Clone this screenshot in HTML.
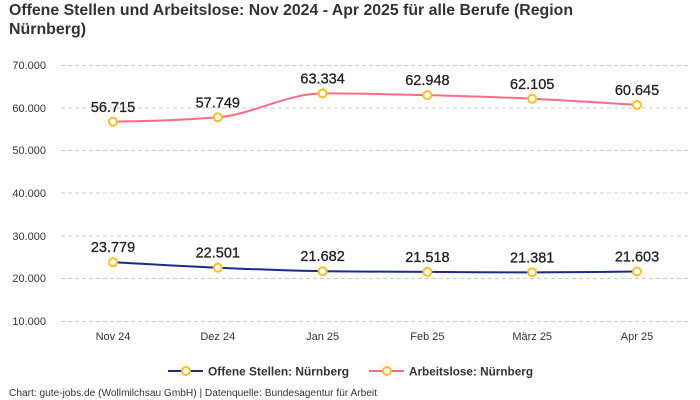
<!DOCTYPE html>
<html>
<head>
<meta charset="utf-8">
<style>
  html, body { margin:0; padding:0; background:#fff; }
  svg { display:block; font-family:"Liberation Sans", sans-serif; }
</style>
</head>
<body>
<svg width="700" height="400" viewBox="0 0 700 400" xmlns="http://www.w3.org/2000/svg">
  <rect width="700" height="400" fill="#fff"/>
  <!-- Title -->
  <text x="9" y="15" font-size="16" font-weight="bold" fill="#333" textLength="564" lengthAdjust="spacingAndGlyphs">Offene Stellen und Arbeitslose: Nov 2024 - Apr 2025 für alle Berufe (Region</text>
  <text x="9" y="34" font-size="16" font-weight="bold" fill="#333" textLength="77" lengthAdjust="spacingAndGlyphs">Nürnberg)</text>

  <!-- Grid -->
  <g stroke="#cccccc" stroke-width="1" stroke-dasharray="4,3">
    <line x1="61" y1="65.5" x2="688" y2="65.5"/>
    <line x1="61" y1="108" x2="688" y2="108"/>
    <line x1="61" y1="150.5" x2="688" y2="150.5"/>
    <line x1="61" y1="193" x2="688" y2="193"/>
    <line x1="61" y1="236" x2="688" y2="236"/>
    <line x1="61" y1="278.5" x2="688" y2="278.5"/>
    <line x1="61" y1="321.5" x2="688" y2="321.5"/>
  </g>
  <!-- Y labels -->
  <g font-size="11" fill="#333" text-anchor="end">
    <text x="46" y="69">70.000</text>
    <text x="46" y="112">60.000</text>
    <text x="46" y="154">50.000</text>
    <text x="46" y="197">40.000</text>
    <text x="46" y="240">30.000</text>
    <text x="46" y="282">20.000</text>
    <text x="46" y="325">10.000</text>
  </g>
  <!-- X labels -->
  <g font-size="11" fill="#333" text-anchor="middle">
    <text x="113" y="340">Nov 24</text>
    <text x="217.8" y="340">Dez 24</text>
    <text x="322.6" y="340">Jan 25</text>
    <text x="427.4" y="340">Feb 25</text>
    <text x="532.2" y="340">März 25</text>
    <text x="637" y="340">Apr 25</text>
  </g>

  <!-- Pink series -->
  <path d="M113,121.7 C147.93,120.97 182.87,120.23 217.8,117.3 C252.73,114.37 287.67,93.4 322.6,93.4 C357.53,93.4 392.47,94.22 427.4,95.1 C462.33,95.98 497.27,97.07 532.2,98.7 C567.13,100.33 602.07,102.62 637,104.9" fill="none" stroke="#ff6b84" stroke-width="2"/>
  <!-- Blue series -->
  <path d="M113,262.2 C147.93,264.2 182.87,266.2 217.8,267.7 C252.73,269.2 287.67,270.73 322.6,271.2 C357.53,271.67 392.47,271.7 427.4,271.9 C462.33,272.1 497.27,272.4 532.2,272.4 C567.13,272.4 602.07,271.95 637,271.5" fill="none" stroke="#1a2b8c" stroke-width="2"/>

  <!-- Markers -->
  <g fill="#fff" stroke="#fbbf1f" stroke-width="2">
    <circle cx="113" cy="121.7" r="4"/>
    <circle cx="217.8" cy="117.3" r="4"/>
    <circle cx="322.6" cy="93.4" r="4"/>
    <circle cx="427.4" cy="95.1" r="4"/>
    <circle cx="532.2" cy="98.7" r="4"/>
    <circle cx="637" cy="104.9" r="4"/>
    <circle cx="113" cy="262.2" r="4"/>
    <circle cx="217.8" cy="267.7" r="4"/>
    <circle cx="322.6" cy="271.2" r="4"/>
    <circle cx="427.4" cy="271.9" r="4"/>
    <circle cx="532.2" cy="272.4" r="4"/>
    <circle cx="637" cy="271.5" r="4"/>
  </g>

  <!-- Data labels -->
  <g font-size="14.5" fill="#222" text-anchor="middle" stroke="#222" stroke-width="0.3">
    <text x="113" y="112">56.715</text>
    <text x="217.8" y="107.5">57.749</text>
    <text x="322.6" y="83.5">63.334</text>
    <text x="427.4" y="85">62.948</text>
    <text x="532.2" y="89">62.105</text>
    <text x="637" y="95">60.645</text>
    <text x="113" y="252">23.779</text>
    <text x="217.8" y="257.5">22.501</text>
    <text x="322.6" y="261">21.682</text>
    <text x="427.4" y="262">21.518</text>
    <text x="532.2" y="262.5">21.381</text>
    <text x="637" y="261.5">21.603</text>
  </g>

  <!-- Legend -->
  <line x1="168" y1="371" x2="203" y2="371" stroke="#1a2b8c" stroke-width="2"/>
  <circle cx="186" cy="371" r="4" fill="#fff" stroke="#fbbf1f" stroke-width="2"/>
  <text x="208" y="375.5" font-size="12" font-weight="bold" fill="#333" textLength="141" lengthAdjust="spacingAndGlyphs">Offene Stellen: Nürnberg</text>
  <line x1="369" y1="371" x2="404" y2="371" stroke="#ff6b84" stroke-width="2"/>
  <circle cx="387" cy="371" r="4" fill="#fff" stroke="#fbbf1f" stroke-width="2"/>
  <text x="409" y="375.5" font-size="12" font-weight="bold" fill="#333" textLength="124" lengthAdjust="spacingAndGlyphs">Arbeitslose: Nürnberg</text>

  <!-- Footer -->
  <text x="9" y="396" font-size="10" fill="#333" textLength="368" lengthAdjust="spacingAndGlyphs">Chart: gute-jobs.de (Wollmilchsau GmbH) | Datenquelle: Bundesagentur für Arbeit</text>
</svg>
</body>
</html>
